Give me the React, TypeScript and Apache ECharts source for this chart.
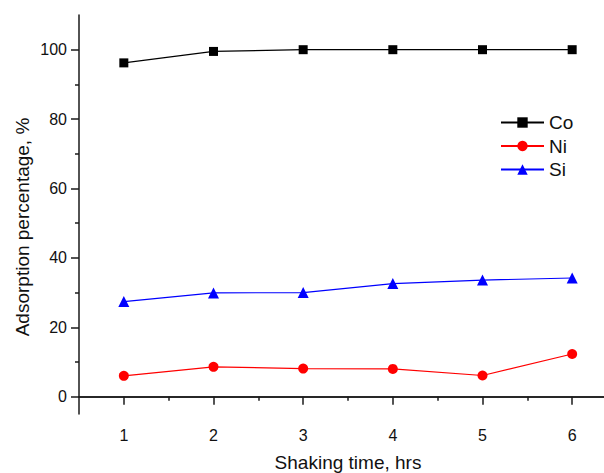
import React, { useEffect, useRef } from "react";
import * as echarts from "echarts";

const shakingTime = [1, 2, 3, 4, 5, 6];
const coValues = [96.2, 99.5, 100, 100, 100, 100];
const niValues = [6.0, 8.6, 8.1, 8.0, 6.1, 12.3];
const siValues = [27.4, 29.9, 30.0, 32.6, 33.6, 34.2];
const xTickLabels = [1, 2, 3, 4, 5, 6];
const xMinorTicks = [1.5, 2.5, 3.5, 4.5, 5.5];
const yTickLabels = [0, 20, 40, 60, 80, 100];
const yMinorTicks = [10, 30, 50, 70, 90];
const xTitle = "Shaking time, hrs";
const yTitle = "Adsorption percentage, %";

const FONT = "'Liberation Sans', Arial, sans-serif";
const AXIS_COLOR = "#1a1a1a";

export default function App() {
  const ref = useRef<HTMLDivElement>(null);
  useEffect(() => {
    if (!ref.current) return;
    const chart = echarts.init(ref.current, undefined, { renderer: "svg" });
    const pair = (vals: number[]) => shakingTime.map((t, i) => [t, vals[i]]);
    const axisLine = { show: true, lineStyle: { color: AXIS_COLOR, width: 1.5 } };
    const tickStyle = { color: AXIS_COLOR, width: 1.5 };
    const gridBox = { left: 79, top: 15, right: -13, height: 399, containLabel: false, outerBoundsMode: "none", show: false };
    chart.setOption({
      animation: false,
      backgroundColor: "#fff",
      grid: [{ ...gridBox }, { ...gridBox }, { ...gridBox }],
      legend: {
        orient: "vertical",
        left: 500,
        top: 113,
        padding: 0,
        itemWidth: 43,
        itemHeight: 13,
        itemGap: 4.5,
        textStyle: { fontFamily: FONT, fontSize: 19, color: "#111" },
        data: ["Co", "Ni", "Si"],
      },
      graphic: [
        {
          type: "text",
          x: 22,
          y: 227,
          rotation: Math.PI / 2,
          style: {
            text: yTitle,
            fontFamily: FONT,
            fontSize: 19,
            fill: "#111",
            align: "center",
            verticalAlign: "middle",
          },
        },
      ],
      xAxis: [
        {
          type: "value",
          gridIndex: 0,
          position: "bottom",
          min: 0.5,
          max: 6.5,
          name: xTitle,
          nameLocation: "middle",
          nameGap: 39,
          nameTextStyle: { fontFamily: FONT, fontSize: 19, color: "#111" },
          axisLine,
          splitLine: { show: false },
          axisTick: { show: true, length: 8, customValues: xTickLabels, lineStyle: tickStyle },
          axisLabel: { customValues: xTickLabels, margin: 13, fontFamily: FONT, fontSize: 16, color: "#111" },
        },
        {
          type: "value",
          gridIndex: 1,
          position: "bottom",
          min: 0.5,
          max: 6.5,
          axisLine: { show: false },
          splitLine: { show: false },
          axisLabel: { show: false },
          axisTick: { show: true, length: 4, customValues: xMinorTicks, lineStyle: tickStyle },
        },
        {
          type: "value",
          gridIndex: 2,
          position: "top",
          min: 0.5,
          max: 6.5,
          axisLine,
          splitLine: { show: false },
          axisLabel: { show: false },
          axisTick: { show: false },
        },
      ],
      yAxis: [
        {
          type: "value",
          gridIndex: 0,
          position: "left",
          min: -5,
          max: 110,
          axisLine,
          splitLine: { show: false },
          axisTick: { show: true, length: 8, customValues: yTickLabels, lineStyle: tickStyle },
          axisLabel: { customValues: yTickLabels, margin: 12, fontFamily: FONT, fontSize: 16, color: "#111" },
        },
        {
          type: "value",
          gridIndex: 1,
          position: "left",
          min: -5,
          max: 110,
          axisLine: { show: false },
          splitLine: { show: false },
          axisLabel: { show: false },
          axisTick: { show: true, length: 4, customValues: yMinorTicks, lineStyle: tickStyle },
        },
        {
          type: "value",
          gridIndex: 2,
          position: "left",
          min: -5,
          max: 110,
          show: false,
        },
      ],
      series: [
        {
          name: "Co",
          type: "line",
          xAxisIndex: 0,
          yAxisIndex: 0,
          data: pair(coValues),
          symbol: "rect",
          symbolSize: 9,
          itemStyle: { color: "#000" },
          lineStyle: { color: "#000", width: 1.2 },
        },
        {
          name: "Ni",
          type: "line",
          xAxisIndex: 0,
          yAxisIndex: 0,
          data: pair(niValues),
          symbol: "circle",
          symbolSize: 10,
          itemStyle: { color: "#ff0000" },
          lineStyle: { color: "#ff0000", width: 1.2 },
        },
        {
          name: "Si",
          type: "line",
          xAxisIndex: 0,
          yAxisIndex: 0,
          data: pair(siValues),
          symbol: "triangle",
          symbolSize: 11,
          itemStyle: { color: "#0000ff" },
          lineStyle: { color: "#0000ff", width: 1.2 },
        },
      ],
    });
    return () => chart.dispose();
  }, []);
  return (
    <div style={{ position: "fixed", left: 0, top: 0, width: 604, height: 473, overflow: "hidden", background: "#fff" }}>
      <div ref={ref} style={{ width: 604, height: 473 }} />
    </div>
  );
}
